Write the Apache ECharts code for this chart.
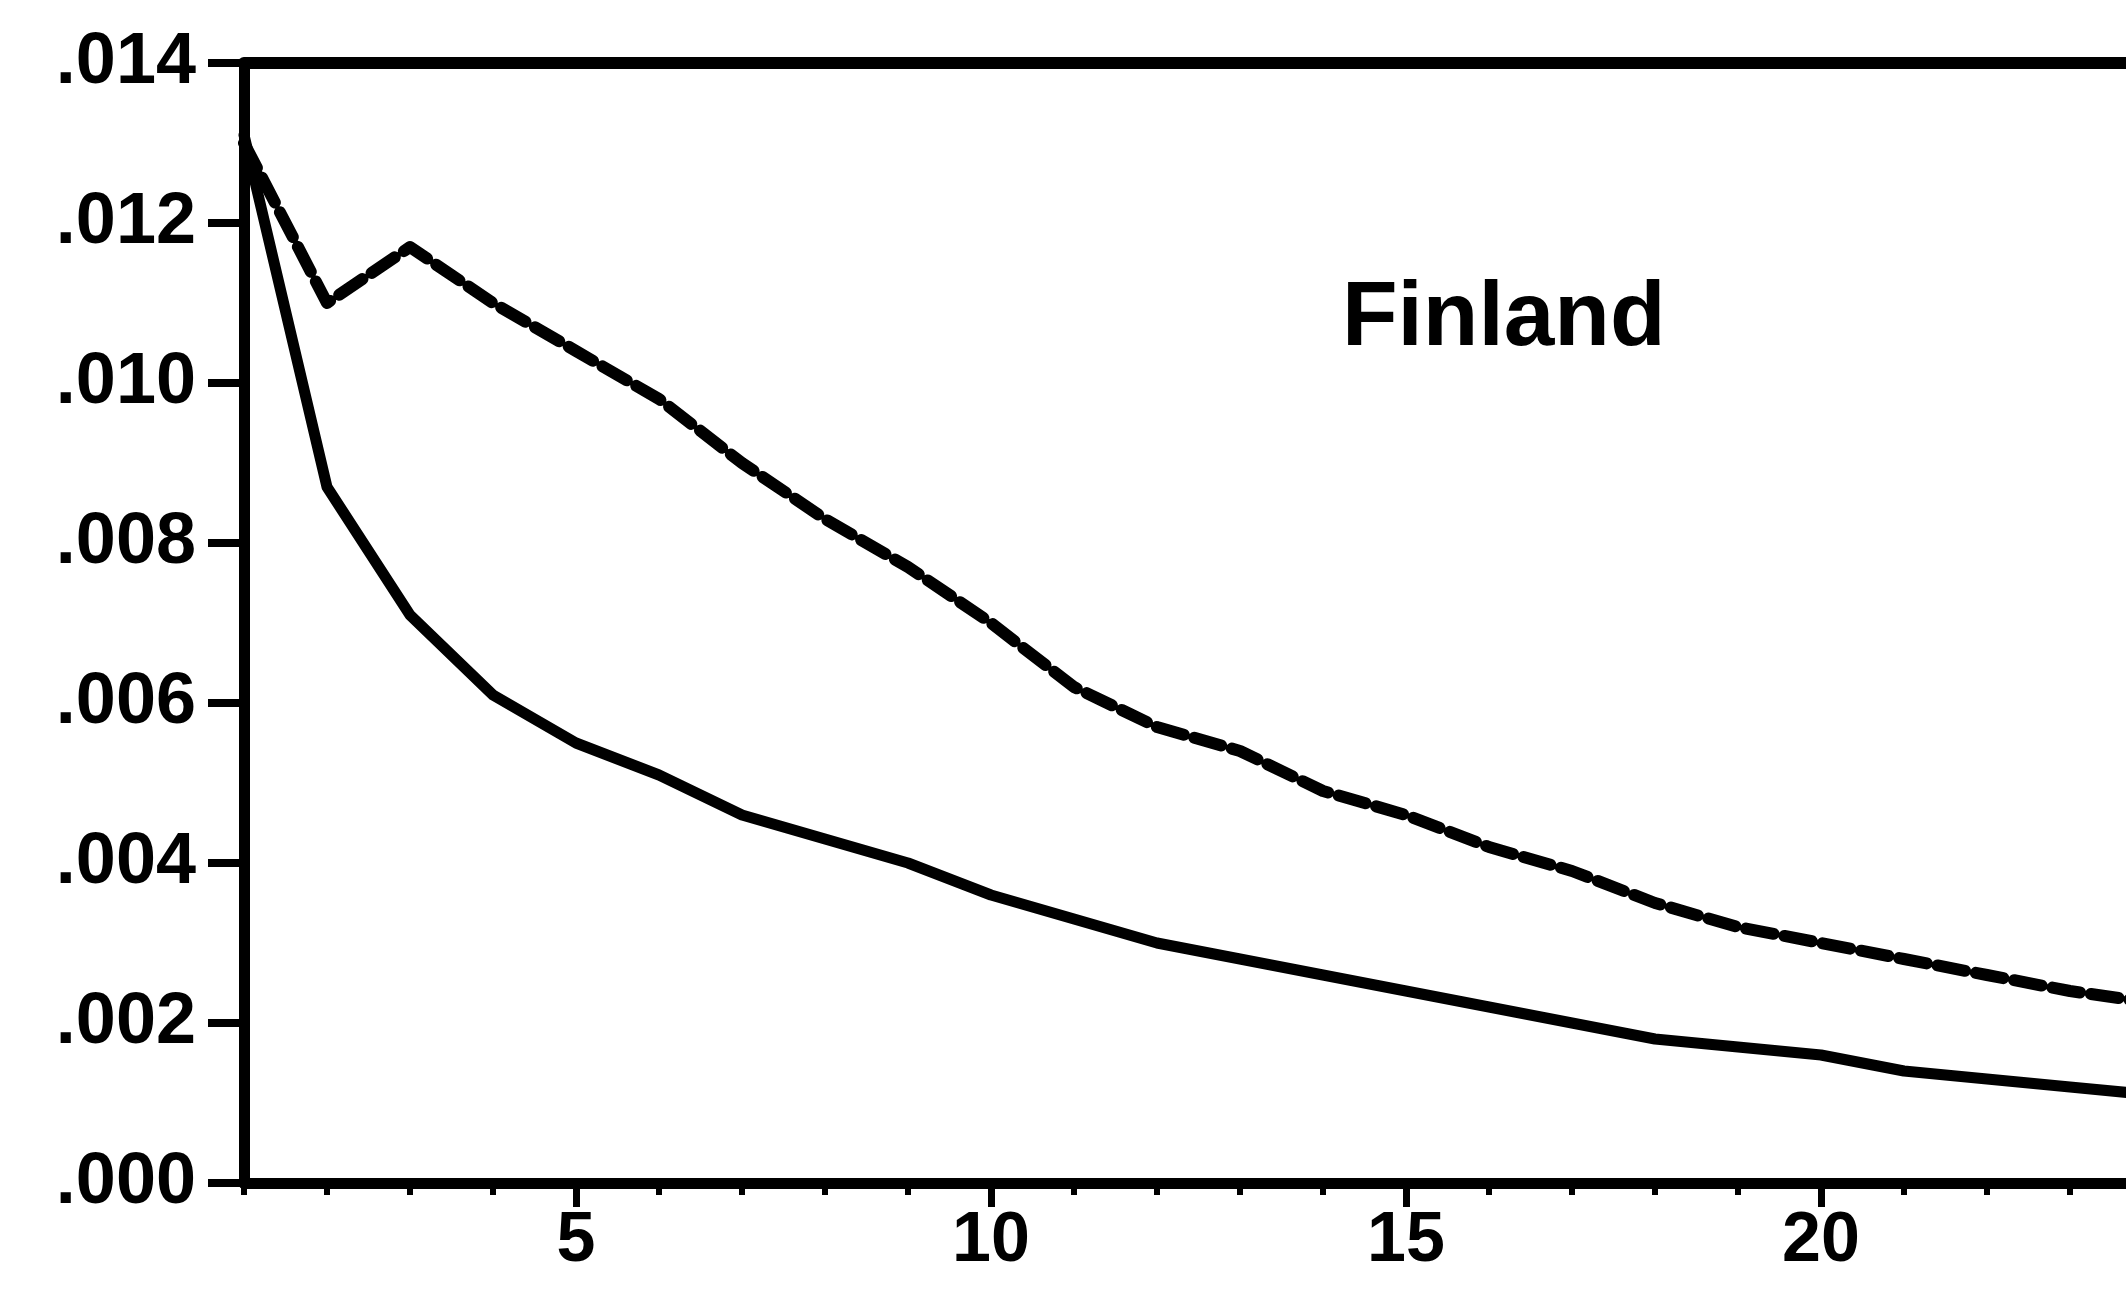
<!DOCTYPE html>
<html>
<head>
<meta charset="utf-8">
<script src="https://cdn.jsdelivr.net/npm/echarts@6/dist/echarts.min.js"></script>
<style>
  html, body { margin: 0; padding: 0; background: #fff; }
  #chart { width: 2126px; height: 1293px; }
</style>
</head>
<body>
<div id="chart"></div>
<script>
// Forecast horizons (periods)
const horizons = [1, 2, 3, 4, 5, 6, 7, 8, 9, 10, 11, 12, 13, 14, 15, 16, 17, 18, 19, 20, 21, 22, 23, 24];

// Solid curve
const solidValues = [0.0131, 0.0087, 0.0071, 0.0061, 0.0055, 0.0051, 0.0046, 0.0043, 0.0040, 0.0036,
                     0.0033, 0.0030, 0.0028, 0.0026, 0.0024, 0.0022, 0.0020, 0.0018, 0.0017, 0.0016,
                     0.0014, 0.0013, 0.0012, 0.0011];

// Dashed curve
const dashedValues = [0.0130, 0.0110, 0.0117, 0.0110, 0.0104, 0.0098, 0.0090, 0.0083, 0.0077, 0.0070,
                      0.0062, 0.0057, 0.0054, 0.0049, 0.0046, 0.0042, 0.0039, 0.0035, 0.0032, 0.0030,
                      0.0028, 0.0026, 0.0024, 0.00225];

// Axis ticks and labels
const xMinorTicks = horizons;
const xMajorTicks = [5, 10, 15, 20];
const yTicks = [0, 0.002, 0.004, 0.006, 0.008, 0.010, 0.012, 0.014];

const panelTitle = 'Finland';

const FONT = "'Liberation Sans', Arial, Helvetica, sans-serif";

const chart = echarts.init(document.getElementById('chart'), null, { renderer: 'canvas' });

const pairs = (ys) => horizons.map((x, i) => [x, ys[i]]);

// The plotted window runs past the right edge of the page, so the
// visible horizon ends a little before the last data point.
const X_MIN = 1;
const X_MAX = 23.675;

chart.setOption({
  backgroundColor: '#ffffff',
  animation: false,
  title: {
    text: panelTitle,
    left: 1342,
    top: 274,
    padding: 0,
    textStyle: { fontFamily: FONT, fontWeight: 'bold', fontSize: 91, color: '#000' }
  },
  grid: {
    left: 244,
    top: 63,
    bottom: 110,
    right: 0,
    show: false
  },
  xAxis: [
    {
      type: 'value',
      min: X_MIN,
      max: X_MAX,
      position: 'bottom',
      splitLine: { show: false },
      axisLine: { show: true, onZero: false, lineStyle: { color: '#000', width: 11 } },
      axisTick: { show: true, customValues: xMinorTicks, length: 12, lineStyle: { color: '#000', width: 6 } },
      axisLabel: {
        show: true,
        customValues: xMajorTicks,
        margin: 24,
        fontFamily: FONT,
        fontWeight: 'bold',
        fontSize: 70,
        color: '#000'
      }
    },
    {
      type: 'value',
      min: X_MIN,
      max: X_MAX,
      position: 'bottom',
      splitLine: { show: false },
      axisLine: { show: false, onZero: false },
      axisTick: { show: true, customValues: xMajorTicks, length: 24, lineStyle: { color: '#000', width: 7 } },
      axisLabel: { show: false }
    },
    {
      // top frame line
      type: 'value',
      min: X_MIN,
      max: X_MAX,
      position: 'top',
      splitLine: { show: false },
      axisLine: { show: true, onZero: false, lineStyle: { color: '#000', width: 12 } },
      axisTick: { show: false },
      axisLabel: { show: false }
    }
  ],
  yAxis: {
    type: 'value',
    min: 0,
    max: 0.014,
    interval: 0.002,
    splitLine: { show: false },
    axisLine: { show: true, onZero: false, lineStyle: { color: '#000', width: 11 } },
    axisTick: { show: true, customValues: yTicks, length: 36, lineStyle: { color: '#000', width: 8 } },
    axisLabel: {
      margin: 48,
      fontFamily: FONT,
      fontWeight: 'bold',
      fontSize: 72,
      color: '#000',
      formatter: (v) => v.toFixed(3).replace(/^0/, '')
    }
  },
  series: [
    {
      name: 'solid',
      type: 'line',
      xAxisIndex: 0,
      data: pairs(solidValues),
      showSymbol: false,
      clip: false,
      lineStyle: { color: '#000', width: 11, type: 'solid', join: 'round', cap: 'round' }
    },
    {
      name: 'dashed',
      type: 'line',
      xAxisIndex: 0,
      data: pairs(dashedValues),
      showSymbol: false,
      clip: false,
      lineStyle: { color: '#000', width: 12, type: [28, 11], join: 'round', cap: 'round' }
    }
  ]
});
</script>
</body>
</html>
